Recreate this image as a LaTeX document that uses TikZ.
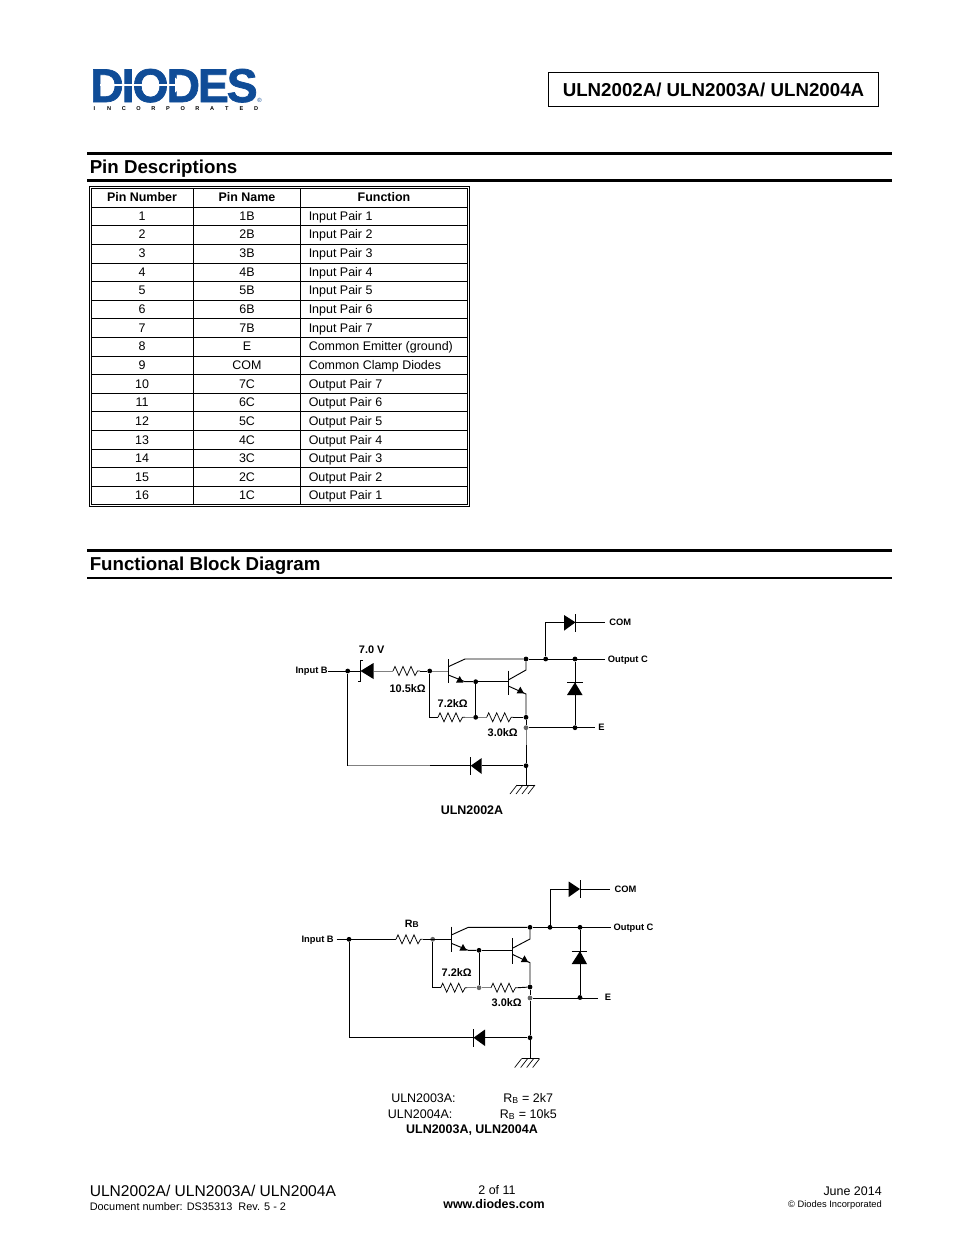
\documentclass[tikz,border=0pt]{standalone}
\usepackage{fontspec}
\setmainfont{Liberation Sans}
\usetikzlibrary{calc}
\definecolor{logoblue}{HTML}{0F4C97}
\newcommand{\fsz}[1]{\fontsize{#1}{#1}\selectfont}
\tikzset{
  x=0.75pt,y=-0.75pt,
  wire/.style={line width=0.7pt,black},
  gwire/.style={line width=0.7pt,black!50},
  dot/.style={circle,fill=black,inner sep=0pt,minimum size=3.6pt},
  gdot/.style={circle,fill=black!60,inner sep=0pt,minimum size=3.6pt},
  tbl/.style={line width=0.75pt,black},
  cellc/.style={inner sep=0pt,anchor=base,font=\fsz{9.35pt}},
  celll/.style={inner sep=0pt,anchor=base west,font=\fsz{9.35pt}},
  cellh/.style={inner sep=0pt,anchor=base,font=\fsz{9.35pt}\bfseries},
  sec/.style={inner sep=0pt,anchor=base west,font=\fsz{14.03pt}\bfseries},
  slab/.style={inner sep=0pt,font=\fsz{7pt}\bfseries},
  rlab/.style={inner sep=0pt,font=\fsz{8.2pt}\bfseries},
  captxt/.style={inner sep=0pt,anchor=base west,font=\fsz{9.35pt}},
  rule3/.style={line width=2.3pt,black},
  rule2/.style={line width=1.5pt,black}
}
\newcommand{\resH}[2]{\draw[wire,line width=0.55pt] (#1) -- ++(2,-4.5) -- ++(4,9) -- ++(4,-9) -- ++(4,9) -- ++(4,-9) -- ++(4,9) -- ++(2.5,-4.5) -- (#2);}
\newcommand{\eArrow}[2]{\fill[black] (#1-3.7,#2+3.3) -- (#1+3.7,#2+3.3) -- (#1,#2-3.3) -- cycle;}
\newcommand{\gnd}[2]{\foreach \k in {0,6,12,18}{\draw[wire,line width=0.5pt] (#1+\k,#2) -- ++(-7,9);}}
\begin{document}
\begin{tikzpicture}
\useasboundingbox (0,0) rectangle (954,1235);

% ---- logo
\node[inner sep=0pt,anchor=base west,text=logoblue] (logo) at (90,102) {\scalebox{0.98}[1.0]{\fontsize{35.5pt}{35.5pt}\selectfont\bfseries\addfontfeatures{LetterSpace=-4.5,FakeBold=1.5}DIODES}};
\draw[white,line width=1pt] (100,85) -- (176,85);
\fill[white] (175,77.5) -- (184,85) -- (175,92.5) -- cycle;
\foreach \c [count=\i from 0] in {I,N,C,O,R,P,O,R,A,T,E,D}
  \node[inner sep=0pt,anchor=base,font=\fsz{4.2pt}\bfseries] (lt\i) at (94.5+14.7*\i,110) {\c};
\node[inner sep=0pt,text=logoblue,font=\fsz{4.5pt}] (regm) at (259.5,100) {®};

% ---- title box
\node[draw,line width=0.75pt,minimum width=248pt,minimum height=25pt,inner sep=0pt,font=\fsz{14.03pt}\bfseries] (title) at (713.5,89.5) {ULN2002A/ ULN2003A/ ULN2004A};

% ---- Pin Descriptions
\coordinate (r1a) at (87,153.5); \coordinate (r1b) at (892,153.5);
\coordinate (r2a) at (87,180.5); \coordinate (r2b) at (892,180.5);
\draw[rule3] (r1a) -- (r1b);
\draw[rule3] (r2a) -- (r2b);
\node[sec] (s1) at (89.5,173) {Pin Descriptions};

% table
\draw[tbl] (89,186) rectangle (469.5,506);
\draw[tbl] (91,188) rectangle (467.5,504);
\foreach \x in {193.5,300} \draw[tbl] (\x,188) -- (\x,504);
\foreach \y in {207,225.6,244.2,263,281.6,300.2,318.8,337.4,356,374.6,393.2,411.8,430.6,449.2,467.8,486.4}
  \draw[tbl] (91,\y) -- (467.5,\y);
\node[cellh] (hn) at (142,201.3) {Pin Number};
\node[cellh] (hm) at (247,201.3) {Pin Name};
\node[cellh] (hf) at (384,201.3) {Function};
\foreach \n/\m/\f [count=\i from 0] in {1/1B/Input Pair 1,2/2B/Input Pair 2,3/3B/Input Pair 3,4/4B/Input Pair 4,5/5B/Input Pair 5,6/6B/Input Pair 6,7/7B/Input Pair 7,8/E/Common Emitter (ground),9/COM/Common Clamp Diodes,10/7C/Output Pair 7,11/6C/Output Pair 6,12/5C/Output Pair 5,13/4C/Output Pair 4,14/3C/Output Pair 3,15/2C/Output Pair 2,16/1C/Output Pair 1}{
  \node[cellc] (a\i) at (142,220.2+18.65*\i) {\n};
  \node[cellc] (b\i) at (247,220.2+18.65*\i) {\m};
  \node[celll] (c\i) at (308.5,220.2+18.65*\i) {\f};
}

% ---- Functional Block Diagram
\coordinate (r3a) at (87,550.5); \coordinate (r3b) at (892,550.5);
\coordinate (r4a) at (87,578); \coordinate (r4b) at (892,578);
\draw[rule3] (r3a) -- (r3b);
\draw[rule2] (r4a) -- (r4b);
\node[sec] (s2) at (89.5,570) {Functional Block Diagram};

% ======== ULN2002A
\begin{scope}
\node[slab,anchor=east] (inB) at (328,671) {Input B};
\node[slab,anchor=west] (outC) at (607.7,659.8) {Output C};
\node[slab,anchor=west] (com) at (609,622.5) {COM};
\node[slab,anchor=west] (eL) at (598,727.5) {E};
\node[rlab] (vz) at (371.7,650) {7.0 V};
\node[rlab] (r1l) at (407.7,689) {10.5kΩ};
\node[rlab] (r2l) at (452.7,704) {7.2kΩ};
\node[rlab] (r3l) at (502.7,733) {3.0kΩ};
\node[inner sep=0pt,font=\fsz{9.35pt}\bfseries] (cap1) at (472,810) {ULN2002A};

\node[dot] (ja) at (347.7,671) {};
\node[dot] (jb) at (429.7,671) {};
\node[dot] (jc) at (526,659) {};
\node[dot] (jd) at (545.7,659) {};
\node[dot] (je) at (575,659) {};
\node[dot] (jf) at (475.7,681.7) {};
\node[dot] (jg) at (475.7,717.3) {};
\node[dot] (jh) at (526,717.3) {};
\node[gdot] (ji) at (526,727.7) {};
\node[dot] (jj) at (575,727.7) {};
\node[dot] (jk) at (526,765.7) {};
\coordinate (ze) at (373.5,671); \coordinate (zk) at (360.5,671);
\coordinate (r1a1) at (393,671); \coordinate (r1b1) at (420,671);
\coordinate (q1b) at (448.3,671);
\coordinate (r2a1) at (438,717.3); \coordinate (r2b1) at (465,717.3);
\coordinate (r3a1) at (486.7,717.3); \coordinate (r3b1) at (513.3,717.3);
\coordinate (gnd1) at (526,785);
\coordinate (outE) at (605,659);
\coordinate (comE) at (605,622.3);
\coordinate (eE) at (595,727.7);
\coordinate (inE) at (328,671);
\coordinate (bl1) at (347.7,765.7);
\coordinate (bm1) at (430,765.7);
\coordinate (bk1) at (470.7,765.7);

\draw[wire] (inE) -- (zk);
\draw[gwire] (ze) -- (r1a1);
\resH{r1a1}{r1b1}
\draw[wire] (r1b1) -- (jb);
\draw[gwire] (jb) -- (q1b);
% Q1
\draw[wire] (448.3,659) -- (448.3,683);
\draw[wire] (448.3,666.7) -- (465,659) -- (jc);
\draw[wire] (jc) -- (outE);
\draw[wire] (448.3,675) -- (465,681.7) -- (jf);
\eArrow{459.7}{679.3}
% Q2
\draw[wire] (508.3,670.7) -- (508.3,695);
\draw[wire] (jf) -- (508.3,681.7);
\draw[wire] (508.3,680) -- (526,670) -- (jc);
\draw[wire] (508.3,686) -- (526,694) -- (jh);
\eArrow{520.3}{690}
\draw[wire] (jh) -- (ji);
\draw[gwire] (ji) -- (526,745);
\draw[wire] (526,745) -- (jk);
\draw[wire] (jk) -- (gnd1);
\draw[wire] (517,785) -- (535,785);
\gnd{517}{785}
% resistor net
\draw[wire] (jf) -- (jg);
\draw[wire] (jb) |- (r2a1);
\resH{r2a1}{r2b1}
\draw[gwire] (r2b1) -- (jg);
\draw[gwire] (jg) -- (r3a1);
\resH{r3a1}{r3b1}
\draw[wire] (r3b1) -- (jh);
\draw[wire] (ji) -- (eE);
% clamp diode
\draw[wire] (je) -- (jj);
\fill (575,682.3) -- (567,695) -- (582.5,695) -- cycle;
\draw[wire] (567,682.3) -- (582.5,682.3);
% COM diode
\coordinate (d1a) at (564,622.3); \coordinate (d1k) at (575.5,622.3);
\draw[wire] (jd) |- (d1a);
\fill (564,615) -- (564,630.7) -- (575.5,622.3) -- cycle;
\draw[wire] (575.7,614) -- (575.7,631.7);
\draw[wire] (d1k) -- (comE);
% zener
\fill (373.5,663) -- (373.5,679) -- (360.5,671) -- cycle;
\draw[wire] (363,660.3) -- (360.3,660.3) -- (360.3,681) -- (357.5,681);
% bottom diode
\coordinate (d2a) at (481.7,765.7);
\draw[wire] (ja) -- (bl1);
\draw[gwire] (bl1) -- (bm1);
\draw[wire] (bm1) -- (bk1);
\fill (481.7,758) -- (481.7,774) -- (470.7,765.7) -- cycle;
\draw[wire] (470.7,757) -- (470.7,774.5);
\draw[wire] (d2a) -- (jk);
\end{scope}

% ======== ULN2003A / ULN2004A
\begin{scope}
\node[slab,anchor=east] (inBb) at (334,939.8) {Input B};
\node[slab,anchor=west] (outCb) at (613.3,927.8) {Output C};
\node[slab,anchor=west] (comb) at (614.3,889.3) {COM};
\node[slab,anchor=west] (eLb) at (604.5,997.5) {E};
\node[inner sep=0pt,font=\fsz{8pt}\bfseries] (rbl) at (411.7,923.5) {R{\fsz{6.3pt}B}};
\node[rlab] (r2lb) at (456.7,973) {7.2kΩ};
\node[rlab] (r3lb) at (506.7,1003) {3.0kΩ};

\node[dot] (ka) at (349,939.3) {};
\node[gdot] (kb) at (432.7,939.3) {};
\node[dot] (kc) at (530,927.3) {};
\node[dot] (kd) at (550,927.3) {};
\node[dot] (ke) at (580,927.3) {};
\node[dot] (kf) at (479,950.3) {};
\node[gdot] (kg) at (479,987.7) {};
\node[dot] (kh) at (530,987) {};
\node[gdot] (ki) at (530,998) {};
\node[dot] (kj) at (580,997.5) {};
\node[dot] (kk) at (530,1037.7) {};
\coordinate (inEb) at (336.7,939.3);
\coordinate (ra) at (396,939.3); \coordinate (rb) at (422.7,939.3);
\coordinate (q3b) at (451.3,939.3);
\coordinate (r2a2) at (440.7,987.7); \coordinate (r2b2) at (467.3,987.7);
\coordinate (r3a2) at (491,987.7); \coordinate (r3b2) at (517.7,987.7);
\coordinate (gnd2) at (530,1058.3);
\coordinate (outEb) at (610.7,927.3);
\coordinate (comEb) at (610,889);
\coordinate (eEb) at (598.3,998);

\draw[wire] (inEb) -- (ra);
\resH{ra}{rb}
\draw[wire] (rb) -- (q3b);
% Q1
\draw[wire] (451.3,926.7) -- (451.3,951.7);
\draw[wire] (451.3,935) -- (468.3,927.3) -- (kc);
\draw[wire] (kc) -- (outEb);
\draw[wire] (451.3,943.3) -- (468.3,950.3) -- (kf);
\eArrow{463}{947.3}
% Q2
\draw[wire] (512.3,938.3) -- (512.3,964);
\draw[wire] (kf) -- (512.3,950.3);
\draw[wire] (512.3,948.3) -- (530,939) -- (kc);
\draw[wire] (512.3,954.3) -- (530,962.7) -- (kh);
\eArrow{524.5}{958.7}
\draw[wire] (kh) -- (ki) -- (kk) -- (gnd2);
\draw[wire] (521.7,1058.3) -- (538.5,1058.3);
\gnd{521.7}{1058.5}
% resistor net
\draw[wire] (kf) -- (kg);
\draw[wire] (kb) |- (r2a2);
\resH{r2a2}{r2b2}
\draw[gwire] (r2b2) -- (kg);
\draw[gwire] (kg) -- (r3a2);
\resH{r3a2}{r3b2}
\draw[wire] (r3b2) -- (kh);
\draw[wire] (ki) -- (eEb);
% clamp diode
\draw[wire] (ke) -- (kj);
\fill (580,951) -- (571.7,964) -- (587,964) -- cycle;
\draw[wire] (571.7,951) -- (587,951);
% COM diode
\coordinate (d3a) at (568.7,889); \coordinate (d3k) at (580,889);
\draw[wire] (kd) |- (d3a);
\fill (568.7,881.5) -- (568.7,897) -- (580,889) -- cycle;
\draw[wire] (580.7,880) -- (580.7,898.3);
\draw[wire] (d3k) -- (comEb);
% bottom diode
\coordinate (d4a) at (485,1037.7);
\draw[wire] (ka) |- (473.3,1037.7);
\fill (485,1029.5) -- (485,1046) -- (473.5,1037.7) -- cycle;
\draw[wire] (473.3,1029) -- (473.3,1046.7);
\draw[wire] (d4a) -- (kk);
\end{scope}

\node[captxt] (t1) at (391,1102) {ULN2003A:};
\node[captxt] (t2) at (503,1102) {R\textsubscript{B} = 2k7};
\node[captxt] (t3) at (387.7,1118) {ULN2004A:};
\node[captxt] (t4) at (499.7,1118) {R\textsubscript{B} = 10k5};
\node[inner sep=0pt,anchor=base,font=\fsz{9.35pt}\bfseries] (t5) at (472,1133) {ULN2003A, ULN2004A};

% ---- footer
\node[inner sep=0pt,anchor=base west,font=\fsz{11.7pt}] (f1) at (89.5,1196) {ULN2002A/ ULN2003A/ ULN2004A};
\node[inner sep=0pt,anchor=base west,font=\fsz{8.2pt}] (f2) at (89.5,1210) {Document number: DS35313\ \ Rev. 5 - 2};
\node[inner sep=0pt,anchor=base,font=\fsz{9.35pt}] (f3) at (497,1194) {2 of 11};
\node[inner sep=0pt,anchor=base,font=\fsz{9.35pt}\bfseries] (f4) at (494,1208) {www.diodes.com};
\node[inner sep=0pt,anchor=base east,font=\fsz{9.35pt}] (f5) at (882,1195) {June 2014};
\node[inner sep=0pt,anchor=base east,font=\fsz{7pt}] (f6) at (882,1207) {© Diodes Incorporated};
\end{tikzpicture}
\end{document}
